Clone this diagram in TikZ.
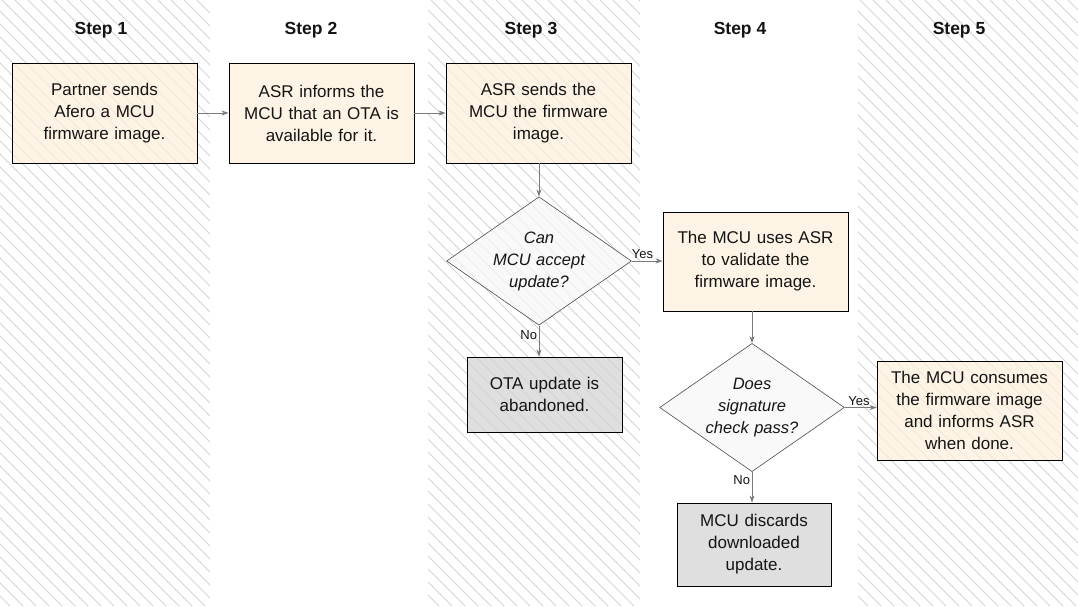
\documentclass[tikz,border=0pt]{standalone}
\usepackage{fontspec}
\setmainfont{Liberation Sans}
\usetikzlibrary{shapes.geometric,arrows.meta}
\definecolor{peach}{HTML}{FDF0DB}
\definecolor{graybox}{HTML}{D3D3D3}
\definecolor{diafill}{HTML}{F7F7F7}
\definecolor{hatch}{HTML}{D4D4D4}
\definecolor{arrowc}{HTML}{7A7A7A}
\definecolor{txt}{HTML}{141414}
\tikzset{
  stephead/.style={font=\fontsize{17.5}{20}\selectfont\bfseries, text=txt},
  procbox/.style={draw=black, line width=0.9pt, fill=peach, fill opacity=0.72, text opacity=1,
    minimum width=185pt, minimum height=100pt, text width=170pt, align=center, inner sep=0pt,
    font=\fontsize{17}{22}\selectfont, text=txt},
  endbox/.style={procbox, fill=graybox},
  decision/.style={shape=diamond, draw=black!70, line width=0.6pt, fill=diafill, fill opacity=0.75, text opacity=1,
    minimum width=180pt, minimum height=125pt, aspect=1.44, inner sep=0pt, text width=100pt, align=center,
    font=\fontsize{16.5}{22}\selectfont\itshape, text=txt},
  flow/.style={draw=arrowc, line width=0.8pt, -{Stealth[length=7pt,width=5pt]}},
  lbl/.style={font=\fontsize{13}{15}\selectfont, text=txt, inner sep=1.5pt}
}
\begin{document}
\begin{tikzpicture}[x=1pt,y=-1pt]
\useasboundingbox (0,0) rectangle (1078,606);
\fill[white] (0,0) rectangle (1078,606);
% hatched columns
\foreach \xa/\xb in {0/210, 428/640, 858/1078}{
  \begin{scope}
    \clip (\xa,0) rectangle (\xb,606);
    \foreach \k in {-700,-687,...,1100}{
      \draw[hatch, line width=0.9pt] (\k,0) -- ++(606,606);
    }
  \end{scope}
}
% step headings
\node[stephead] (s1) at (101,30) {Step 1};
\node[stephead] (s2) at (311,30) {Step 2};
\node[stephead] (s3) at (531,30) {Step 3};
\node[stephead] (s4) at (740,30) {Step 4};
\node[stephead] (s5) at (959,30) {Step 5};
% boxes
\node[procbox] (b1) at (104.5,113) {Partner sends\\Afero a MCU\\firmware image.};
\node[procbox] (b2) at (321.5,113) {ASR informs the\\MCU that an OTA is\\available for it.};
\node[procbox] (b3) at (538.5,113) {ASR sends the\\MCU the firmware\\image.};
\node[decision] (d1) at (539,261) {Can\\MCU accept\\update?};
\node[procbox, minimum height=99pt] (v) at (755.5,261.5) {The MCU uses ASR\\to validate the\\firmware image.};
\node[endbox, minimum width=155pt, minimum height=75pt, text width=145pt] (ab) at (544.5,394.5) {OTA update is\\abandoned.};
\node[decision] (d2) at (752,407.5) {Does\\signature\\check pass?};
\node[procbox, minimum height=99pt] (c) at (969.5,410.5) {The MCU consumes\\the firmware image\\and informs ASR\\when done.};
\node[endbox, minimum width=154pt, minimum height=83pt, text width=145pt] (dc) at (754,544.5) {MCU discards\\downloaded\\update.};
% connectors
\draw[flow] (b1.east) -- (b2.west);
\draw[flow] (b2.east) -- (b3.west);
\draw[flow] (b3.south -| d1.north) -- (d1.north);
\draw[flow] (d1.east) -- node[lbl, above, pos=0.35] (y1) {Yes} (d1.east -| v.west);
\draw[flow] (d1.south) -- node[lbl, left, pos=0.3] (n1) {No} (d1.south |- ab.north);
\draw[flow] (v.south -| d2.north) -- (d2.north);
\draw[flow] (d2.east) -- node[lbl, above, pos=0.45] (y2) {Yes} (d2.east -| c.west);
\draw[flow] (d2.south) -- node[lbl, left, pos=0.27] (n2) {No} (d2.south |- dc.north);
\end{tikzpicture}
\end{document}
